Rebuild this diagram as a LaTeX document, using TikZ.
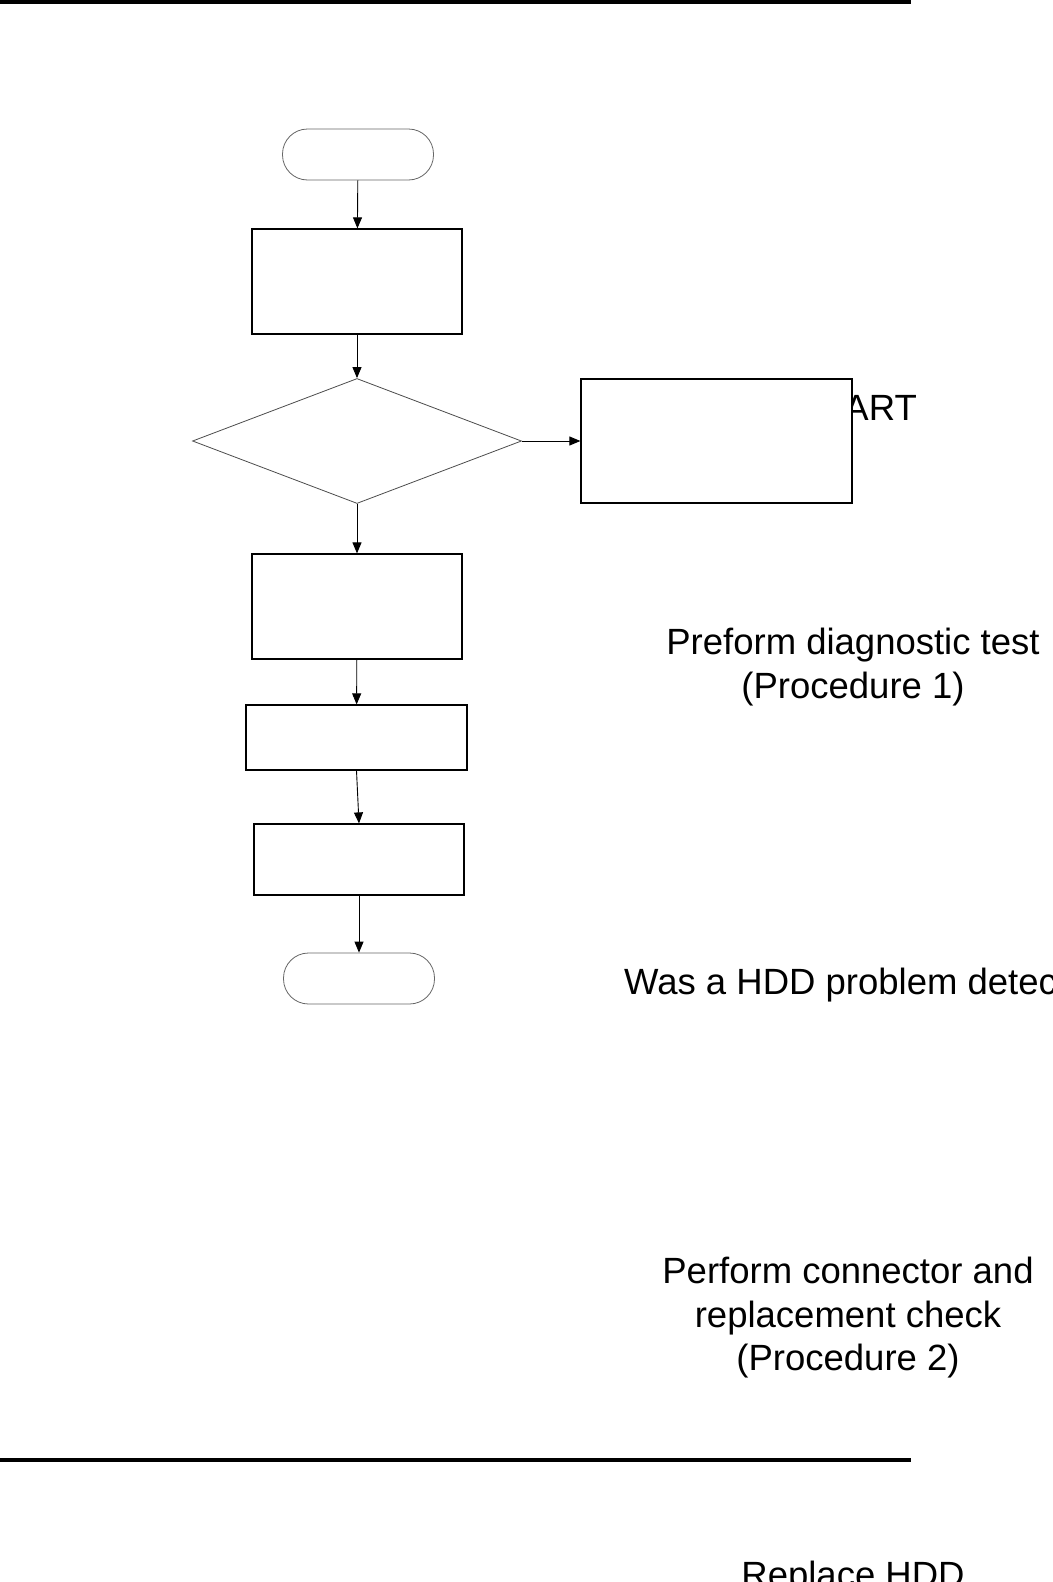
\documentclass[tikz,border=0pt]{standalone}
\usepackage{fontspec}
\setmainfont{Liberation Sans}
\usetikzlibrary{arrows.meta,shapes.geometric}
\begin{document}
\begin{tikzpicture}[x=1pt,y=-1pt,
  boxstyle/.style={draw=black, fill=white, line width=1.2pt, rectangle, inner sep=0pt},
  termstyle/.style={draw=black!60, fill=white, rectangle, rounded corners=25pt, line width=0.8pt, inner sep=0pt, minimum width=151pt, minimum height=51pt},
  arr/.style={-{Triangle[length=11pt,width=9pt]}, line width=0.9pt},
  lbl/.style={font=\fontsize{36.5}{43.5}\selectfont, align=center, inner sep=0pt},
  rule/.style={line width=4pt}]
\useasboundingbox (0,0) rectangle (1052,1582);
\clip (0,0) rectangle (1052,1582);
% rules
\coordinate (tl) at (0,2); \coordinate (tr) at (911,2);
\coordinate (bl) at (0,1460); \coordinate (br) at (911,1460);
\draw[rule] (tl) -- (tr);
\draw[rule] (bl) -- (br);
% texts (drawn before shapes so that boxes cover them)
\node[lbl, anchor=east] (tstart) at (917,408) {START};
\node[lbl, anchor=north] (tdiag) at (853,628) {Preform diagnostic test\\(Procedure 1)};
\node[lbl, anchor=north west] (tq) at (624,968) {Was a HDD problem detected?};
\node[lbl, anchor=north] (tconn) at (848,1257) {Perform connector and\\replacement check\\(Procedure 2)};
\node[lbl, anchor=north] (trep) at (853,1561) {Replace HDD};
% shapes
\node[termstyle] (start) at (358,154.5) {};
\node[boxstyle, minimum width=210pt, minimum height=105pt] (b1) at (357,281.5) {};
\node[diamond, draw=black!70, fill=white, line width=0.8pt, inner sep=0pt, aspect=2.63, minimum width=329pt, minimum height=125pt] (dec) at (357,441) {};
\node[boxstyle, minimum width=271pt, minimum height=124pt] (right) at (716.5,441) {};
\node[boxstyle, minimum width=210pt, minimum height=105pt] (b2) at (357,606.5) {};
\node[boxstyle, minimum width=221pt, minimum height=65pt] (b3) at (356.5,737.5) {};
\node[boxstyle, minimum width=210pt, minimum height=71pt] (b4) at (359,859.5) {};
\node[termstyle] (stop) at (359,978.5) {};
% connectors
\draw[arr] (start) -- (b1);
\draw[arr] (b1) -- (dec);
\draw[arr] (dec.east) -- (right.west);
\draw[arr] (dec) -- (b2);
\draw[arr] (b2) -- (b3);
\draw[arr] (b3.south) -- (b4.north);
\draw[arr] (b4) -- (stop);
\end{tikzpicture}
\end{document}
